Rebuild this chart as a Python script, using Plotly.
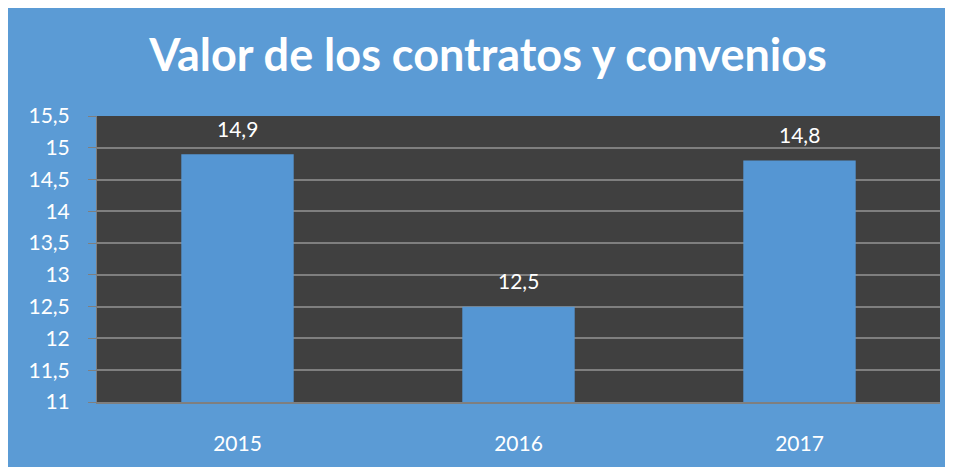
import plotly.graph_objects as go

years = ["2015", "2016", "2017"]
valores = [14.9, 12.5, 14.8]
y_ticks = [11, 11.5, 12, 12.5, 13, 13.5, 14, 14.5, 15, 15.5]


def coma(v):
    # Spanish decimal comma
    return f"{v:g}".replace(".", ",")


BLUE_BG = "#5B9BD5"
PLOT_BG = "#404040"
BAR = "#5596D3"
GRID = "#7F7F7F"
FONT = "Lato"

# page body has an 8px margin; the chart runs past the right edge of the window
W, H = 953, 459
L, R, T, B = 89, 21, 108, 60

fig = go.Figure()
fig.add_trace(
    go.Bar(
        x=years,
        y=valores,
        width=0.4,
        marker=dict(color=BAR, line=dict(width=0)),
        hoverinfo="x+y",
    )
)

# data labels, Excel style: floating well above the bar top
# (category index, so "2015" is not read as position 2015)
for i, v in enumerate(valores):
    fig.add_annotation(
        x=i, y=v, text=coma(v),
        showarrow=False, yanchor="middle", yshift=26,
        font=dict(family=FONT, size=21, color="white"),
    )

fig.update_layout(
    width=W,
    height=H,
    margin=dict(l=L, r=R, t=T, b=B),
    paper_bgcolor=BLUE_BG,
    plot_bgcolor=PLOT_BG,
    showlegend=False,
    font=dict(family=FONT, color="white"),
    title=dict(
        text="<b>Valor de los contratos y convenios</b>",
        x=480 / W, xanchor="center",
        y=1 - 47 / H, yanchor="middle",
        font=dict(family=FONT, size=45, color="white"),
    ),
    xaxis=dict(
        type="category",
        showgrid=False,
        showline=True,
        linecolor=GRID,
        linewidth=1.5,
        ticks="",
        ticklabelstandoff=22,
        tickfont=dict(family=FONT, size=21, color="white"),
    ),
    yaxis=dict(
        range=[11, 15.5],
        tickvals=y_ticks,
        ticktext=[coma(t) for t in y_ticks],
        showgrid=True,
        gridcolor=GRID,
        gridwidth=1.5,
        zeroline=False,
        showline=True,
        linecolor=GRID,
        linewidth=1,
        ticks="outside",
        ticklen=8,
        tickcolor=GRID,
        ticklabelstandoff=14,
        tickfont=dict(family=FONT, size=21, color="white"),
    ),
)

fig.write_html("out.html")
